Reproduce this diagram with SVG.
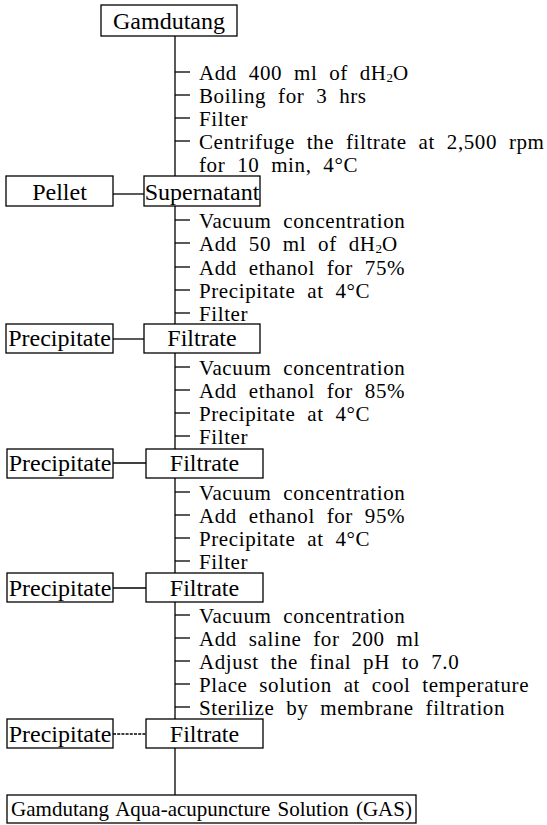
<svg xmlns="http://www.w3.org/2000/svg" width="547" height="825" viewBox="0 0 547 825">
<style>
  .box { fill: #fff; stroke: #000; stroke-width: 1.3; }
  .ln { stroke: #000; stroke-width: 1.3; fill: none; }
  .dash { stroke-dasharray: 3 1.2; }
  text { font-family: "Liberation Serif", "Times New Roman", serif; font-size: 24px; fill: #000; }
  .c { text-anchor: middle; }
  .step { font-size: 21px; letter-spacing: 0.6px; word-spacing: 6px; }
  .sub { font-size: 13px; letter-spacing: 0; }
  .gas { font-size: 21px; word-spacing: 2px; }
</style>
<rect width="547" height="825" fill="#fff"/>

<g id="connectors">
  <line class="ln" x1="175" y1="36" x2="175" y2="176"/>
  <line class="ln" x1="175" y1="206" x2="175" y2="324"/>
  <line class="ln" x1="175" y1="353" x2="175" y2="449"/>
  <line class="ln" x1="175" y1="478" x2="175" y2="573"/>
  <line class="ln" x1="175" y1="602" x2="175" y2="719"/>
  <line class="ln" x1="175" y1="748" x2="175" y2="795"/>
  <line class="ln" x1="175" y1="72" x2="190" y2="72"/>
  <line class="ln" x1="175" y1="95" x2="190" y2="95"/>
  <line class="ln" x1="175" y1="118" x2="190" y2="118"/>
  <line class="ln" x1="175" y1="141" x2="190" y2="141"/>
  <line class="ln" x1="175" y1="220" x2="190" y2="220"/>
  <line class="ln" x1="175" y1="243" x2="190" y2="243"/>
  <line class="ln" x1="175" y1="267" x2="190" y2="267"/>
  <line class="ln" x1="175" y1="290" x2="190" y2="290"/>
  <line class="ln" x1="175" y1="313" x2="190" y2="313"/>
  <line class="ln" x1="175" y1="367" x2="190" y2="367"/>
  <line class="ln" x1="175" y1="390" x2="190" y2="390"/>
  <line class="ln" x1="175" y1="413" x2="190" y2="413"/>
  <line class="ln" x1="175" y1="436" x2="190" y2="436"/>
  <line class="ln" x1="175" y1="492" x2="190" y2="492"/>
  <line class="ln" x1="175" y1="515" x2="190" y2="515"/>
  <line class="ln" x1="175" y1="538" x2="190" y2="538"/>
  <line class="ln" x1="175" y1="561" x2="190" y2="561"/>
  <line class="ln" x1="175" y1="615" x2="190" y2="615"/>
  <line class="ln" x1="175" y1="638" x2="190" y2="638"/>
  <line class="ln" x1="175" y1="661" x2="190" y2="661"/>
  <line class="ln" x1="175" y1="684" x2="190" y2="684"/>
  <line class="ln" x1="175" y1="707" x2="190" y2="707"/>
  <line class="ln" x1="113" y1="194" x2="144" y2="194"/>
  <line class="ln" x1="113" y1="339" x2="144" y2="339"/>
  <line class="ln" x1="113" y1="463" x2="146" y2="463"/>
  <line class="ln" x1="113" y1="588" x2="146" y2="588"/>
  <line class="ln dash" x1="113" y1="734" x2="146" y2="734"/>
</g>

<g id="steps" class="step">
  <text class="step" x="199" y="80">Add 400 ml of dH<tspan class="sub" dy="2">2</tspan><tspan dy="-2">O</tspan></text>
  <text class="step" x="199" y="103">Boiling for 3 hrs</text>
  <text class="step" x="199" y="126">Filter</text>
  <text class="step" x="199" y="149">Centrifuge the filtrate at 2,500 rpm</text>
  <text class="step" x="199" y="172">for 10 min, 4°C</text>

  <text class="step" x="199" y="228">Vacuum concentration</text>
  <text class="step" x="199" y="251">Add 50 ml of dH<tspan class="sub" dy="2">2</tspan><tspan dy="-2">O</tspan></text>
  <text class="step" x="199" y="275">Add ethanol for 75%</text>
  <text class="step" x="199" y="298">Precipitate at 4°C</text>
  <text class="step" x="199" y="321">Filter</text>

  <text class="step" x="199" y="375">Vacuum concentration</text>
  <text class="step" x="199" y="398">Add ethanol for 85%</text>
  <text class="step" x="199" y="421">Precipitate at 4°C</text>
  <text class="step" x="199" y="444">Filter</text>

  <text class="step" x="199" y="500">Vacuum concentration</text>
  <text class="step" x="199" y="523">Add ethanol for 95%</text>
  <text class="step" x="199" y="546">Precipitate at 4°C</text>
  <text class="step" x="199" y="569">Filter</text>

  <text class="step" x="199" y="623">Vacuum concentration</text>
  <text class="step" x="199" y="646">Add saline for 200 ml</text>
  <text class="step" x="199" y="669">Adjust the final pH to 7.0</text>
  <text class="step" x="199" y="692">Place solution at cool temperature</text>
  <text class="step" x="199" y="715">Sterilize by membrane filtration</text>
</g>

<g id="gamdutang">
  <rect class="box" x="101" y="5" width="136" height="31"/>
  <text class="c" x="169" y="29">Gamdutang</text>
</g>
<g id="pellet">
  <rect class="box" x="6" y="176" width="107" height="30"/>
  <text class="c" x="59.5" y="200">Pellet</text>
</g>
<g id="supernatant">
  <rect class="box" x="144" y="176" width="116" height="30"/>
  <text class="c" x="202" y="200">Supernatant</text>
</g>
<g id="precipitate1">
  <rect class="box" x="6" y="324" width="107" height="29"/>
  <text class="c" x="59.5" y="346">Precipitate</text>
</g>
<g id="filtrate1">
  <rect class="box" x="144" y="324" width="116" height="29"/>
  <text class="c" x="202" y="346">Filtrate</text>
</g>
<g id="precipitate2">
  <rect class="box" x="7" y="449" width="106" height="29"/>
  <text class="c" x="60" y="471">Precipitate</text>
</g>
<g id="filtrate2">
  <rect class="box" x="146" y="449" width="117" height="29"/>
  <text class="c" x="204.5" y="471">Filtrate</text>
</g>
<g id="precipitate3">
  <rect class="box" x="7" y="573" width="106" height="29"/>
  <text class="c" x="60" y="596">Precipitate</text>
</g>
<g id="filtrate3">
  <rect class="box" x="146" y="573" width="117" height="29"/>
  <text class="c" x="204.5" y="596">Filtrate</text>
</g>
<g id="precipitate4">
  <rect class="box" x="7" y="719" width="106" height="29"/>
  <text class="c" x="60" y="742">Precipitate</text>
</g>
<g id="filtrate4">
  <rect class="box" x="146" y="719" width="117" height="29"/>
  <text class="c" x="204.5" y="742">Filtrate</text>
</g>
<g id="gas">
  <rect class="box" x="7" y="795" width="409" height="28"/>
  <text class="c gas" x="211.5" y="816">Gamdutang Aqua-acupuncture Solution (GAS)</text>
</g>
</svg>
